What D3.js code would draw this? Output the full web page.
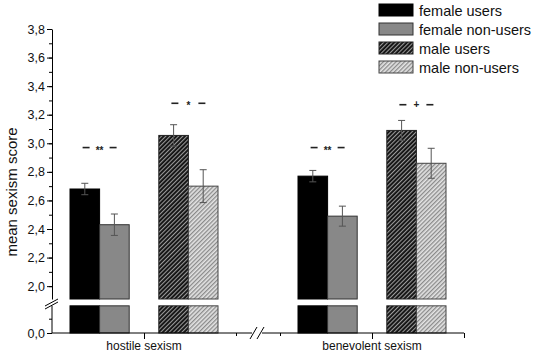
<html>
<head>
  <meta charset="utf-8">
  <script src="https://d3js.org/d3.v7.min.js"></script>
  <style>
    body { margin: 0; background: white; }
    text { font-family: "Liberation Sans", Arial, sans-serif; }
  </style>
  <script>
    var groups = ["hostile sexism", "benevolent sexism"];
    var series = ["female users", "female non-users", "male users", "male non-users"];
    var femaleUsers = [2.68, 2.77];
    var femaleNonUsers = [2.43, 2.49];
    var maleUsers = [3.055, 3.09];
    var maleNonUsers = [2.70, 2.86];
    var femaleUsersErr = [0.04, 0.04];
    var femaleNonUsersErr = [0.075, 0.07];
    var maleUsersErr = [0.075, 0.07];
    var maleNonUsersErr = [0.115, 0.105];
    // significance marks: group index, pair (0 = female, 1 = male), label, height
    var sigGroup = [0, 0, 1, 1];
    var sigPair = [0, 1, 0, 1];
    var sigLabels = ["**", "*", "**", "+"];
    var sigLevels = [2.97, 3.28, 2.97, 3.27];
    var yTicksUpper = [2.0, 2.2, 2.4, 2.6, 2.8, 3.0, 3.2, 3.4, 3.6, 3.8];
    var yTicksLower = [0.0];
    var yAxisTitle = "mean sexism score";

    function makeChart() {
      var svg = d3.select("#chart");
      var fmt = d => d.toFixed(1).replace(".", ",");

      var defs = svg.append("defs");
      function hatch(id, bg, fg, lw) {
        var p = defs.append("pattern").attr("id", id)
            .attr("patternUnits", "userSpaceOnUse")
            .attr("width", 3).attr("height", 3)
            .attr("patternTransform", "rotate(45)");
        p.append("rect").attr("width", 3).attr("height", 3).attr("fill", bg);
        p.append("rect").attr("width", lw).attr("height", 3).attr("fill", fg);
      }
      hatch("hatchDark", "#111111", "#9a9a9a", 1.1);
      hatch("hatchLight", "#e4e4e4", "#8a8a8a", 1.3);
      var fills = ["#000000", "#888888", "url(#hatchDark)", "url(#hatchLight)"];
      var strokes = ["#000", "#333", "#222", "#444"];
      var values = [femaleUsers, femaleNonUsers, maleUsers, maleNonUsers];
      var errs = [femaleUsersErr, femaleNonUsersErr, maleUsersErr, maleNonUsersErr];

      // broken y scales
      var yU = d3.scaleLinear().domain([1.91, 3.8]).range([299, 29]);
      var yL = d3.scaleLinear().domain([0, 0.2]).range([333, 304.4]);
      var lowTop = 0.19;

      // broken x scales, one per group section
      var xS = [d3.scaleLinear().domain([0.5, 1.5]).range([52, 236]),
                d3.scaleLinear().domain([1.5, 2.5]).range([280, 464])];
      var slot = d3.scaleBand()
          .domain(["female users", "female non-users", "_gap", "male users", "male non-users"])
          .range([-74, 74]);

      // bars
      groups.forEach(function(g, gi) {
        var cx = xS[gi](gi + 1);
        series.forEach(function(s, si) {
          var x0 = cx + slot(s), w = slot.bandwidth();
          var v = values[si][gi];
          svg.append("rect").attr("x", x0).attr("y", yU(v))
              .attr("width", w).attr("height", yU(1.91) - yU(v))
              .attr("fill", fills[si]).attr("stroke", strokes[si]).attr("stroke-width", 1);
          svg.append("rect").attr("x", x0).attr("y", yL(lowTop))
              .attr("width", w).attr("height", yL(0) - yL(lowTop))
              .attr("fill", fills[si]).attr("stroke", strokes[si]).attr("stroke-width", 1);
          // error bar
          var e = errs[si][gi], ex = x0 + w / 2;
          var eb = svg.append("g").attr("stroke", "#555").attr("stroke-width", 1);
          eb.append("line").attr("x1", ex).attr("x2", ex).attr("y1", yU(v - e)).attr("y2", yU(v + e));
          eb.append("line").attr("x1", ex - 3.5).attr("x2", ex + 3.5).attr("y1", yU(v - e)).attr("y2", yU(v - e));
          eb.append("line").attr("x1", ex - 3.5).attr("x2", ex + 3.5).attr("y1", yU(v + e)).attr("y2", yU(v + e));
        });
      });

      // significance marks
      sigLabels.forEach(function(lab, i) {
        var gi = sigGroup[i];
        var cx = xS[gi](gi + 1) + slot(series[sigPair[i] * 2 + 1]);
        var y = yU(sigLevels[i]);
        var sg = svg.append("g");
        sg.append("line").attr("x1", cx - 17).attr("x2", cx - 10).attr("y1", y).attr("y2", y)
            .attr("stroke", "#222").attr("stroke-width", 1.6);
        sg.append("line").attr("x1", cx + 10).attr("x2", cx + 17).attr("y1", y).attr("y2", y)
            .attr("stroke", "#222").attr("stroke-width", 1.6);
        sg.append("text").attr("x", cx).attr("y", y + (lab === "+" ? 3.5 : 6))
            .attr("text-anchor", "middle").attr("font-size", 10)
            .attr("font-weight", "bold").attr("fill", "#222").text(lab);
      });

      // y axes
      var minorU = d3.range(20, 39).map(d => d / 10);
      svg.append("g").attr("transform", "translate(52,0)")
          .call(d3.axisLeft(yU).tickValues(minorU).tickSize(3).tickSizeOuter(0).tickFormat(""));
      svg.append("g").attr("transform", "translate(52,0)")
          .call(d3.axisLeft(yU).tickValues(yTicksUpper).tickSize(5).tickSizeOuter(0).tickFormat(fmt))
          .call(a => a.select(".domain").remove());
      svg.append("g").attr("transform", "translate(52,0)")
          .call(d3.axisLeft(yL).tickValues([0.1]).tickSize(3).tickSizeOuter(0).tickFormat(""))
          .call(a => a.select(".domain").attr("d", "M0," + yL(0) + "V" + yL(lowTop)));
      svg.append("g").attr("transform", "translate(52,0)")
          .call(d3.axisLeft(yL).tickValues(yTicksLower).tickSize(5).tickSizeOuter(0).tickFormat(fmt))
          .call(a => a.select(".domain").remove());
      svg.selectAll(".tick text").attr("font-size", 12.5).attr("font-family", "Liberation Sans, Arial, sans-serif")
          .attr("fill", "#111").attr("x", -7);
      svg.selectAll(".tick line, .domain").attr("stroke", "#000");

      // y break marks
      var yb = svg.append("g").attr("stroke", "#000").attr("stroke-width", 1);
      yb.append("line").attr("x1", 45).attr("y1", 306).attr("x2", 58).attr("y2", 299);
      yb.append("line").attr("x1", 45).attr("y1", 309).attr("x2", 58).attr("y2", 302);

      // x axes
      xS.forEach(function(sc, gi) {
        var ax = d3.axisBottom(sc).tickValues([gi + 1]).tickSize(6).tickSizeOuter(0).tickFormat("");
        var g = svg.append("g").attr("transform", "translate(0,333)").call(ax);
        var d0 = gi === 0 ? 52 : 262, d1 = gi === 0 ? 252 : 464;
        g.select(".domain").attr("d", "M" + d0 + ",0H" + d1).attr("stroke", "#000");
        g.selectAll(".tick line").attr("stroke", "#000");
        svg.append("g").attr("transform", "translate(0,333)")
            .call(d3.axisBottom(sc).tickValues([1.5]).tickSize(3).tickSizeOuter(0).tickFormat(""))
            .call(a => a.select(".domain").remove());
        svg.append("text").attr("x", sc(gi + 1)).attr("y", 350)
            .attr("text-anchor", "middle").attr("font-size", 12).attr("fill", "#111").text(groups[gi]);
      });
      svg.append("g").attr("transform", "translate(0,333)")
          .call(d3.axisBottom(xS[1]).tickValues([2.5]).tickSize(5).tickFormat(""))
          .call(a => a.select(".domain").remove());
      var xb = svg.append("g").attr("stroke", "#000").attr("stroke-width", 1);
      xb.append("line").attr("x1", 250).attr("y1", 339).attr("x2", 257).attr("y2", 327);
      xb.append("line").attr("x1", 257).attr("y1", 339).attr("x2", 264).attr("y2", 327);

      // axis title
      svg.append("text").attr("transform", "translate(17,192) rotate(-90)")
          .attr("text-anchor", "middle").attr("font-size", 15).attr("fill", "#111").text(yAxisTitle);

      // legend
      var lg = svg.append("g").attr("transform", "translate(379,4)");
      series.forEach(function(s, si) {
        var row = lg.append("g").attr("transform", "translate(0," + si * 19 + ")");
        row.append("rect").attr("width", 34).attr("height", 12)
            .attr("fill", fills[si]).attr("stroke", strokes[si]);
        row.append("text").attr("x", 40).attr("y", 11.5).attr("font-size", 14.5)
            .attr("fill", "#111").text(s);
      });
    }
  </script>
</head>
<body onload="makeChart()">
  <svg id="chart" width="536" height="355"></svg>
</body>
</html>
